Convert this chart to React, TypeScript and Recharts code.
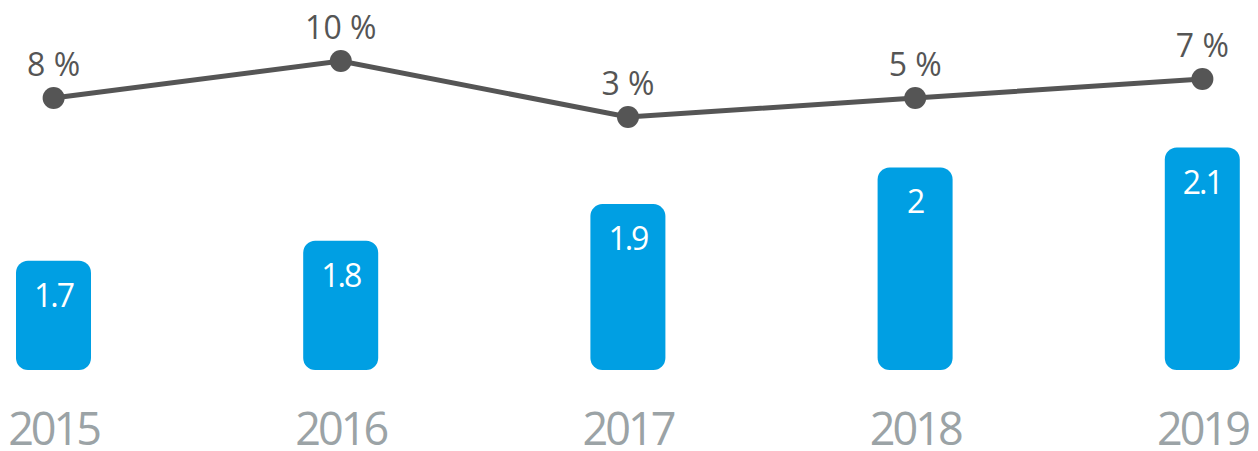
import { ComposedChart, Bar, Line, XAxis, YAxis, LabelList } from 'recharts';

// values
const years = ['2015', '2016', '2017', '2018', '2019'];
const revenue = [1.7, 1.77, 1.9, 2.03, 2.1];
const growthLabels = ['8 %', '10 %', '3 %', '5 %', '7 %'];
// vertical level of each growth marker as drawn in the picture
const growthLevel = [8, 10, 6.97, 8, 9.03];

const BAR_COLOR = '#009FE3';
const LINE_COLOR = '#555555';
const YEAR_COLOR = '#9BA3A6';
const FONT = '"Open Sans", "Noto Sans", sans-serif';

const data = years.map((year, i) => ({
  year,
  revenue: revenue[i],
  growth: growthLevel[i],
  growthLabel: growthLabels[i],
}));

const YearTick = (props: any) => {
  const { x, y, payload } = props;
  return (
    <text x={x} y={y + 75} textAnchor="middle" fill={YEAR_COLOR} fontSize={45} fontFamily={FONT} letterSpacing={-3}>
      {payload.value}
    </text>
  );
};

const BarValue = (props: any) => {
  const { x, y, width, value } = props;
  return (
    <text x={x + width / 2} y={y + 46} textAnchor="middle" fill="#ffffff" fontSize={32} fontFamily={FONT} letterSpacing={-2}>
      {Number(Number(value).toFixed(1))}
    </text>
  );
};

const GrowthValue = (props: any) => {
  const { x, y, index } = props;
  return (
    <text x={x} y={y - 22} textAnchor="middle" fill={LINE_COLOR} fontSize={32} fontFamily={FONT}>
      {growthLabels[index]}
    </text>
  );
};

export default function App() {
  return (
    <div style={{ width: 1250, height: 443, overflow: 'hidden', position: 'relative' }}>
      <div style={{ position: 'absolute', left: -97.6, top: 0 }}>
        <ComposedChart width={1436} height={443} data={data} margin={{ top: 0, right: 0, bottom: 0, left: 0 }}>
          <XAxis
            dataKey="year"
            axisLine={false}
            tickLine={false}
            tickSize={0}
            tickMargin={0}
            height={81}
            tick={<YearTick />}
          />
          <YAxis yAxisId="bar" hide domain={[1.313, 2.594]} />
          <YAxis yAxisId="line" hide domain={[-6.7, 12.865]} />
          <Bar yAxisId="bar" dataKey="revenue" fill={BAR_COLOR} barSize={75} radius={12} isAnimationActive={false}>
            <LabelList dataKey="revenue" content={<BarValue />} />
          </Bar>
          <Line
            yAxisId="line"
            dataKey="growth"
            stroke={LINE_COLOR}
            strokeWidth={5}
            dot={{ r: 11, fill: LINE_COLOR, stroke: 'none' }}
            activeDot={false}
            isAnimationActive={false}
          >
            <LabelList dataKey="growth" content={<GrowthValue />} />
          </Line>
        </ComposedChart>
      </div>
    </div>
  );
}
